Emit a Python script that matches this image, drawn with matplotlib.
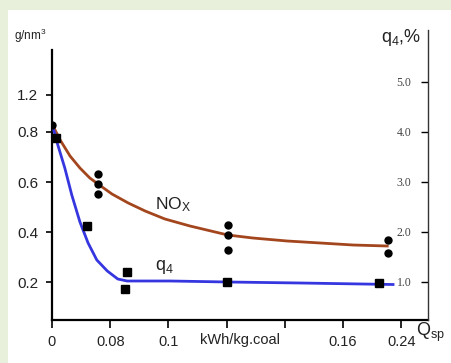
import matplotlib
matplotlib.use("Agg")
import matplotlib.pyplot as plt
from matplotlib.patches import Rectangle

plt.rcParams['font.family'] = ['Liberation Sans', 'DejaVu Sans']
plt.rcParams['mathtext.default'] = 'regular'

# x is in tick-slot units: slot i is the i-th labelled tick on the axis
x_ticks = [0, 1, 2, 3, 4, 5, 6]
x_labels = ['0', '0.08', '0.1', '', '', '0.16', '0.24']

# measured NOx points (g/nm3)
nox_x = [0.0, 0.79, 0.79, 0.79, 3.02, 3.02, 3.02, 5.77, 5.77]
nox_y = [0.828, 0.632, 0.592, 0.552, 0.428, 0.388, 0.328, 0.368, 0.316]

# measured q4 points (plotted on the g/nm3 scale, q4 % = 5 x)
q4_x = [0.07, 0.60, 1.29, 1.25, 3.01, 5.62]
q4_y = [0.776, 0.424, 0.240, 0.172, 0.200, 0.196]

# trend curves
nox_cx = [0.0, 0.14, 0.31, 0.48, 0.65, 0.79, 1.03, 1.31, 1.60, 1.94, 2.37,
          3.02, 3.45, 4.04, 4.61, 5.17, 5.76]
nox_cy = [0.832, 0.768, 0.704, 0.656, 0.616, 0.592, 0.552, 0.516, 0.484,
          0.452, 0.424, 0.388, 0.376, 0.364, 0.356, 0.348, 0.344]

q4_cx = [0.02, 0.10, 0.22, 0.34, 0.48, 0.62, 0.77, 0.95, 1.13, 1.29, 2.03,
         3.02, 4.26, 5.86]
q4_cy = [0.816, 0.748, 0.656, 0.548, 0.440, 0.356, 0.288, 0.244, 0.212,
         0.204, 0.204, 0.200, 0.196, 0.190]

left_ticks = [0.2, 0.4, 0.6, 0.8, 0.948]
left_labels = ['0.2', '0.4', '0.6', '0.8', '1.2']
right_ticks = [1.0, 2.0, 3.0, 4.0, 5.0]
right_labels = ['1.0', '2.0', '3.0', '4.0', '5.0']

W, H = 452, 363
fig = plt.figure(figsize=(W / 100, H / 100), dpi=100)
fig.patch.set_facecolor('#e8f0dc')
fig.patches.append(Rectangle((8 / W, 0), 1, (H - 10) / H, transform=fig.transFigure,
                             facecolor='white', edgecolor='none', zorder=-5))

ax = fig.add_axes([52 / W, (H - 320) / H, (428 - 52) / W, (320 - 30) / H])
ax.set_facecolor('none')
ax.set_xlim(0, (428 - 52) / 58.2)
ax.set_ylim(0.048, 1.208)

ax.plot(nox_cx, nox_cy, color='#a3461e', lw=2, zorder=3)
ax.plot(q4_cx, q4_cy, color='#3636e0', lw=2, zorder=3)
ax.plot(nox_x, nox_y, 'o', color='black', ms=5, zorder=4)
ax.plot(q4_x, q4_y, 's', color='black', ms=6, zorder=4)

for s in ['top', 'right']:
    ax.spines[s].set_visible(False)
ax.spines['left'].set_bounds(0.048, 1.128)
ax.spines['left'].set_linewidth(1.6)
ax.spines['bottom'].set_linewidth(1.6)

ax.set_xticks(x_ticks)
ax.set_xticklabels(x_labels, fontsize=10.5, color='#222222')
ax.tick_params(axis='x', direction='out', length=6, width=1.2, pad=5)
ax.set_yticks(left_ticks)
ax.set_yticklabels(left_labels, fontsize=11, color='#222222')
ax.tick_params(axis='y', direction='out', length=4, width=1.2, pad=6)

ax2 = ax.twinx()
ax2.set_ylim(0.048 * 5, 1.208 * 5)
for s in ['top', 'left', 'bottom']:
    ax2.spines[s].set_visible(False)
ax2.spines['right'].set_linewidth(1.0)
ax2.spines['right'].set_color('#333333')
ax2.set_yticks(right_ticks)
ax2.set_yticklabels(right_labels, fontsize=8.5, color='#444444',
                    family=['Liberation Serif', 'DejaVu Serif'])
ax2.tick_params(axis='y', direction='in', length=5, width=1.0, pad=-12)
for lbl in ax2.get_yticklabels():
    lbl.set_horizontalalignment('right')

ax.text(3.23, -0.032, 'kWh/kg.coal', ha='center', va='center', fontsize=10.5,
        color='#222222', transform=ax.transData, clip_on=False)
fig.text(416 / W, 1 - 332 / H, 'Q$_{sp}$', fontsize=13, ha='left', va='center',
         color='#222222')
fig.text(14 / W, 1 - 36 / H, 'g/nm$^3$', fontsize=8.5, ha='left', va='center',
         color='#222222')
fig.text(381 / W, 1 - 37 / H, 'q$_4$,%', fontsize=13, ha='left', va='center',
         color='#222222')
ax.text(1.77, 0.51, 'NO$_X$', fontsize=12.5, ha='left', va='center', color='#222222')
ax.text(1.77, 0.26, 'q$_4$', fontsize=13, ha='left', va='center', color='#222222')

fig.savefig('out.png', dpi=100, facecolor=fig.get_facecolor())
